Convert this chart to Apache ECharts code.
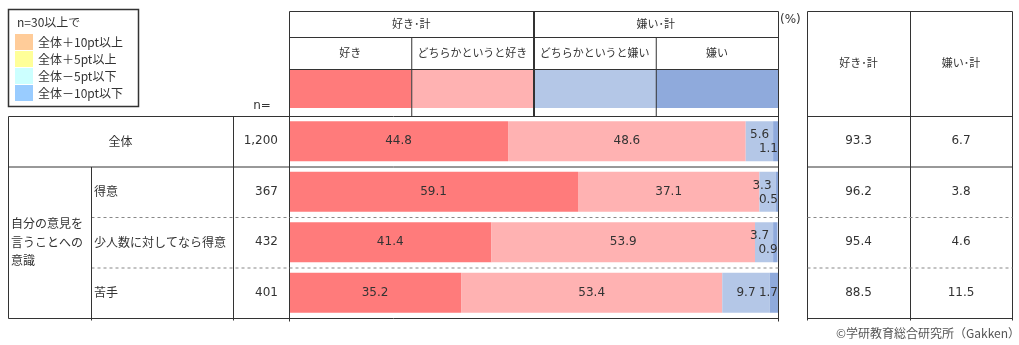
<!DOCTYPE html>
<html><head><meta charset="utf-8">
<script src="https://cdn.jsdelivr.net/npm/echarts@6/dist/echarts.min.js"></script>
<style>html,body{margin:0;padding:0;background:#fff}#c{width:1019px;height:345px}</style>
</head><body><div id="c"></div>
<script>
// ---- data ----
const categories = ['全体', '得意', '少人数に対してなら得意', '苦手'];
const nValues = [1200, 367, 432, 401];
const like = [44.8, 59.1, 41.4, 35.2];
const somewhatLike = [48.6, 37.1, 53.9, 53.4];
const somewhatDislike = [5.6, 3.3, 3.7, 9.7];
const dislike = [1.1, 0.5, 0.9, 1.7];
const likeTotal = [93.3, 96.2, 95.4, 88.5];
const dislikeTotal = [6.7, 3.8, 4.6, 11.5];
const seriesNames = ['好き', 'どちらかというと好き', 'どちらかというと嫌い', '嫌い'];
const groupNames = ['好き･計', '嫌い･計'];
const segmentLabel = '自分の意見を\n言うことへの\n意識';
const legendTitle = 'n=30以上で';
const legendItems = ['全体＋10pt以上', '全体＋5pt以上', '全体－5pt以下', '全体－10pt以下'];
const nHeader = 'n=';
const unitLabel = '(%)';
const credit = '©学研教育総合研究所（Gakken）';

// ---- styles / layout ----
const colors = ['#FF7B7B', '#FFB2B2', '#B4C7E7', '#8FAADC'];
const legendColors = ['#FFCC99', '#FFFF99', '#CCFFFF', '#99CCFF'];
const JP = '"Noto Sans CJK JP", sans-serif';
const NUM = '"DejaVu Sans", sans-serif';
const TXT = '#333';
const LINE = '#333';
const GL = 289, GR = 778, GT = 116, GB = 318;

const chart = echarts.init(document.getElementById('c'), null, {renderer: 'canvas'});
const allSeries = [like, somewhatLike, somewhatDislike, dislike];

function buildSeries(i) {
  const arr = allSeries[i];
  return {
    type: 'bar', stack: 'total', name: seriesNames[i], barWidth: 40,
    itemStyle: {color: colors[i]},
    label: {show: true, color: TXT, fontFamily: NUM, fontSize: 12, position: 'inside',
            formatter: p => Number(p.value).toFixed(1)},
    data: arr.map((v, r) => {
      const small = somewhatDislike[r] < 6;
      if (i === 2 && small) return {value: v, label: {position: 'insideRight', distance: 4, offset: [0, -6]}};
      if (i === 3) return {value: v, label: {position: 'insideRight', distance: 0, offset: [0, small ? 8 : 0]}};
      return v;
    })
  };
}

chart.setOption({
  animation: false,
  grid: {left: GL, top: GT, width: GR - GL, height: GB - GT, containLabel: false},
  xAxis: {type: 'value', min: 0, max: 100, show: false},
  yAxis: {type: 'category', data: categories, inverse: true, show: false},
  series: [0, 1, 2, 3].map(buildSeries)
});

// ---- table graphics ----
const g = [];
function ln(x1, y1, x2, y2, w, dash) {
  g.push({type: 'line', silent: true, z: 10,
    shape: {x1: x1 + 0.5, y1: y1 + 0.5, x2: x2 + 0.5, y2: y2 + 0.5},
    style: {stroke: dash ? '#888' : LINE, lineWidth: w || 1, lineDash: dash ? [3, 3] : null}});
}
function tx(text, x, y, align, font, fill, extra) {
  g.push(Object.assign({type: 'text', silent: true, z: 20, x: x, y: y,
    style: Object.assign({text: text, font: font, fill: fill || TXT, align: align || 'center', verticalAlign: 'middle'}, extra || {})}));
}
function rc(x, y, w, h, fill, stroke, lw) {
  g.push({type: 'rect', silent: true, z: 5, shape: {x: x, y: y, width: w, height: h},
    style: {fill: fill, stroke: stroke || null, lineWidth: lw || 0}});
}

const px = v => chart.convertToPixel({xAxisIndex: 0}, v);
const rowY = i => chart.convertToPixel({yAxisIndex: 0}, categories[i]);
const rowH = (GB - GT) / categories.length;
const q = [0, 25, 50, 75, 100].map(px);

// legend box
rc(8.5, 9.5, 130, 97, null, LINE, 1.5);
tx(legendTitle, 17, 22, 'left', '12px ' + JP);
legendItems.forEach((t, i) => {
  rc(15, 34 + i * 17, 18, 16, legendColors[i]);
  tx(t, 38, 42.5 + i * 17, 'left', '12px ' + JP);
});
tx(nHeader, 262, 106, 'center', '12px ' + NUM);

// header of bar area
const H0 = 11, H1 = 37, H2 = 69, H3 = 108;
for (let i = 0; i < 4; i++) rc(q[i], H2, q[i + 1] - q[i], H3 - H2, colors[i]);
ln(GL, H0, GR, H0); ln(GL, H1, GR, H1); ln(GL, H2, GR, H2);
ln(q[1], H1, q[1], GT); ln(q[3], H1, q[3], GT);
ln(q[2], H0, q[2], GT, 2);
tx(groupNames[0], (q[0] + q[2]) / 2, 24, 'center', '11px ' + JP);
tx(groupNames[1], (q[2] + q[4]) / 2, 24, 'center', '11px ' + JP);
seriesNames.forEach((s, i) => tx(s, (q[i] + q[i + 1]) / 2, 53, 'center', '11px ' + JP));
tx(unitLabel, 780, 20, 'left', '12px ' + NUM);

// left table frame
ln(GL, H0, GL, GB + 3); ln(GR, H0, GR, GB + 3);
ln(8, GT, GR, GT);
ln(8, GT + rowH, GR, GT + rowH);
ln(91, GT + 2 * rowH, GR, GT + 2 * rowH, 1, true);
ln(91, GT + 3 * rowH, GR, GT + 3 * rowH, 1, true);
ln(8, GB, GR, GB);
ln(8, GT, 8, GB); ln(91, GT + rowH, 91, GB + 2); ln(233, GT, 233, GB + 2);

// summary table frame
const S0 = 807, S1 = 910, S2 = 1012;
ln(S0, H0, S2, H0);
[S0, S1, S2].forEach(x => ln(x, H0, x, GB + 2));
ln(S0, GT, S2, GT); ln(S0, GT + rowH, S2, GT + rowH);
ln(S0, GT + 2 * rowH, S2, GT + 2 * rowH, 1, true);
ln(S0, GT + 3 * rowH, S2, GT + 3 * rowH, 1, true);
ln(S0, GB, S2, GB);
tx(groupNames[0], (S0 + S1) / 2, 63, 'center', '11px ' + JP);
tx(groupNames[1], (S1 + S2) / 2, 63, 'center', '11px ' + JP);

// rows
categories.forEach((c, i) => {
  const y = rowY(i);
  if (i === 0) tx(c, (8 + 233) / 2, y, 'center', '12px ' + JP);
  else tx(c, 94, y, 'left', '12px ' + JP);
  tx(nValues[i].toLocaleString('en-US'), 278, y, 'right', '12px ' + NUM);
  tx(likeTotal[i].toFixed(1), (S0 + S1) / 2, y, 'center', '12px ' + NUM);
  tx(dislikeTotal[i].toFixed(1), (S1 + S2) / 2, y, 'center', '12px ' + NUM);
});
tx(segmentLabel, 11, rowY(2), 'left', '12px ' + JP, TXT, {lineHeight: 18.5});
tx(credit, 1020, 333, 'right', '12px ' + JP, '#555');

chart.setOption({graphic: {elements: g}});
</script>
</body></html>
